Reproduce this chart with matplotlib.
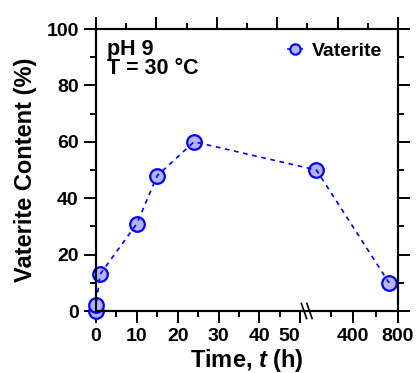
import numpy as np
import matplotlib
matplotlib.use("Agg")
import matplotlib.pyplot as plt
from matplotlib.lines import Line2D
from matplotlib.transforms import ScaledTranslation

plt.rcParams['font.family'] = ['Liberation Sans', 'DejaVu Sans']
plt.rcParams['font.weight'] = 'bold'
plt.rcParams['mathtext.fontset'] = 'custom'
plt.rcParams['mathtext.it'] = 'Liberation Sans:italic:bold'
plt.rcParams['mathtext.rm'] = 'Liberation Sans:bold'

# ---- data ----
time_h = [0, 0, 1, 10, 15, 24, 72, 720]
vaterite_pct = [0, 2, 13, 31, 48, 60, 50, 10]
x_major = [0, 10, 20, 30, 40, 50, 400, 800]
x_major_labels = ['0', '10', '20', '30', '40', '50', '400', '800']
x_minor = [5, 15, 25, 35, 45, 200, 600]
y_major = [0, 20, 40, 60, 80, 100]
series_name = 'Vaterite'

# ---- broken x scale ----
B = 51.5
U200 = 57.44
K = 0.02743

def fwd(t):
    t = np.asarray(t, dtype=float)
    return np.where(t <= B, t, U200 + (t - 200.0) * K)

def inv(u):
    u = np.asarray(u, dtype=float)
    return np.where(u <= B, u, 200.0 + (u - U200) / K)

W, H = 416, 373
fig = plt.figure(figsize=(W / 100, H / 100), dpi=100)
ax = fig.add_axes([96 / W, 1 - 311 / H, 302 / W, 282 / H])
ax.set_xscale('function', functions=(fwd, inv))
ax.set_xlim(0, 800)
ax.set_ylim(0, 100)

blue = '#0000ff'
fill = '#b3b3f5'
ax.plot(time_h, vaterite_pct, ls='none', marker='o', ms=10.5, mfc=fill,
        mec=blue, mew=1.6, zorder=3, clip_on=False)
ax.plot(time_h, vaterite_pct, ls=(0, (2.8, 2.8)), lw=1.2, color=blue,
        zorder=4, clip_on=False)

ax.set_xticks(x_major)
ax.set_xticklabels(x_major_labels)
ax.set_xticks(x_minor, minor=True)
ax.set_yticks(y_major)
ax.set_yticks(np.arange(10, 100, 20), minor=True)

for sp in ax.spines.values():
    sp.set_linewidth(1.5)

ax.tick_params(axis='both', which='major', direction='out', length=8.5,
               width=1.4, labelsize=14, pad=4)
ax.tick_params(axis='both', which='minor', direction='out', length=4.5,
               width=1.4)
ax.tick_params(axis='y', which='both', left=True, right=True,
               labelright=False)
ax.tick_params(axis='x', which='both', top=False)

# shift the "50" label to the left of its tick like the reference
lbl50 = ax.get_xticklabels()[5]
lbl50.set_transform(lbl50.get_transform() + ScaledTranslation(-0.11, 0, fig.dpi_scale_trans))

# top axis ticks (no labels)
axt = ax.twiny()
axt.set_xlim(0, 10)
axt.set_xticks(np.arange(0, 11, 2))
axt.set_xticks(np.arange(1, 10, 2), minor=True)
axt.tick_params(axis='x', which='major', direction='out', length=8.5,
                width=1.4, labeltop=False)
axt.tick_params(axis='x', which='minor', direction='out', length=4.5,
                width=1.4)
for sp in axt.spines.values():
    sp.set_linewidth(1.5)

# break marks on the x axis
dy = 7.5 / 282
dx = 2.6 / 302
for xc in (304 - 96, 309.5 - 96):
    xf = xc / 302
    ax.plot([xf - dx, xf + dx], [dy, -dy], transform=ax.transAxes,
            color='black', lw=1.2, clip_on=False, zorder=5)

ax.set_xlabel('Time, $t$ (h)', fontsize=17, fontweight='bold', labelpad=1)
ax.set_ylabel('Vaterite Content (%)', fontsize=17, fontweight='bold', labelpad=7)

ax.text(11 / 302, (311 - 55.5) / 282, 'pH 9', transform=ax.transAxes,
        fontsize=15.5, fontweight='bold', va='baseline', ha='left')
ax.text(11 / 302, (311 - 74.5) / 282, 'T = 30 °C', transform=ax.transAxes,
        fontsize=15.5, fontweight='bold', va='baseline', ha='left')

handle = Line2D([], [], color=blue, ls='-', lw=1.2, marker='o', ms=7.5,
                mfc=fill, mec=blue, mew=1.5)
leg = ax.legend([handle], [series_name], loc='center left',
                bbox_to_anchor=(288.3 / W, 1 - 51 / H),
                bbox_transform=fig.transFigure, frameon=False,
                handlelength=0.72, handletextpad=0.5, borderpad=0,
                borderaxespad=0, prop={'size': 14, 'weight': 'bold'})

fig.savefig('out.png', dpi=100)
